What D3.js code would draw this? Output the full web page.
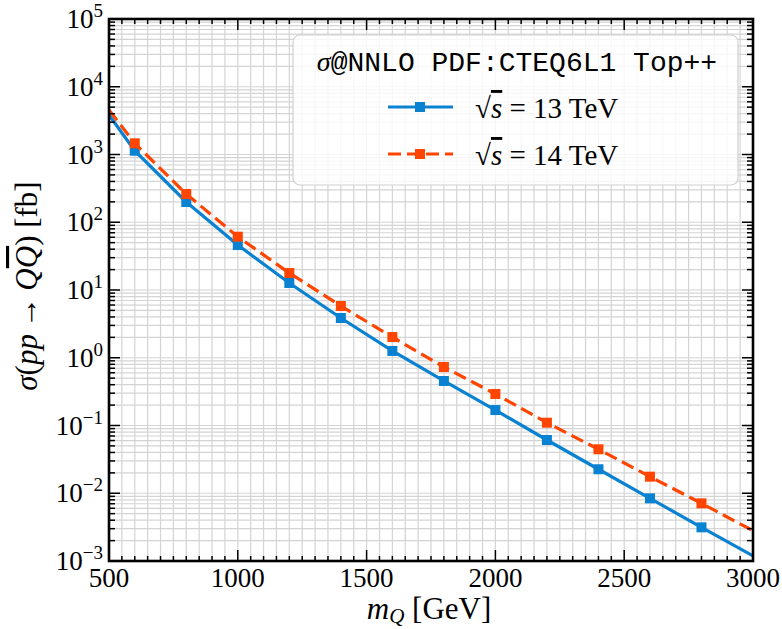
<!DOCTYPE html>
<html>
<head>
<meta charset="utf-8">
<script src="https://cdn.jsdelivr.net/npm/d3@7"></script>
<style>
  body { margin: 0; background: #fff; }
  text { font-family: "Liberation Serif", "DejaVu Serif", serif; fill: #000; }
</style>
</head>
<body>
<div id="chart"></div>
<script>
// top quark pair style cross sections
var mass = [500, 600, 800, 1000, 1200, 1400, 1600, 1800, 2000, 2200, 2400, 2600, 2800, 3000];
var sigma13 = [3830, 1137, 199, 46.1, 12.7, 3.86, 1.26, 0.454, 0.169, 0.0611, 0.0226, 0.00841, 0.00314, 0.00119];
var sigma14 = [4540, 1463, 261, 61.2, 17.8, 5.8, 2.02, 0.73, 0.292, 0.110, 0.0446, 0.01757, 0.0071, 0.0028];
var xTicks = [500, 1000, 1500, 2000, 2500, 3000];
var yTicks = [-3, -2, -1, 0, 1, 2, 3, 4, 5];

var margin = {top: 19, right: 29, bottom: 68, left: 109};
var width = 782 - margin.left - margin.right,
    height = 629 - margin.top - margin.bottom;

var blue = "#0a82d2", orange = "#ff4500";

var svg = d3.select("#chart").append("svg")
    .attr("width", 782)
    .attr("height", 629);

var g = svg.append("g")
    .attr("transform", "translate(" + margin.left + "," + margin.top + ")");

var x = d3.scaleLinear().domain([500, 3000]).range([0, width]);
var y = d3.scaleLog().domain([1e-3, 1e5]).range([height, 0]);

// minor positions
var xMinor = d3.range(500, 3001, 50);
var yMinor = [];
for (var e = -3; e < 5; e++) {
    for (var k = 1; k < 10; k++) yMinor.push(k * Math.pow(10, e));
}
yMinor.push(1e5);

// grid
g.append("g").selectAll("line")
    .data(xMinor)
    .enter().append("line")
    .attr("x1", x).attr("x2", x)
    .attr("y1", 0).attr("y2", height)
    .attr("stroke", "#d4d4d4")
    .attr("stroke-width", 1.2);

g.append("g").selectAll("line")
    .data(yMinor)
    .enter().append("line")
    .attr("y1", y).attr("y2", y)
    .attr("x1", 0).attr("x2", width)
    .attr("stroke", "#d4d4d4")
    .attr("stroke-width", 1.2);

// series
var line = d3.line()
    .x(function(d) { return x(d[0]); })
    .y(function(d) { return y(d[1]); });

function series(vals, color, dash) {
    var pts = mass.map(function(m, i) { return [m, vals[i]]; });
    g.append("path")
        .datum(pts)
        .attr("fill", "none")
        .attr("stroke", color)
        .attr("stroke-width", 3.2)
        .attr("stroke-dasharray", dash)
        .attr("d", line);
    g.append("g").selectAll("rect")
        .data(pts.slice(1, pts.length - 1))
        .enter().append("rect")
        .attr("x", function(d) { return x(d[0]) - 5; })
        .attr("y", function(d) { return y(d[1]) - 5; })
        .attr("width", 10).attr("height", 10)
        .attr("fill", color);
}
series(sigma13, blue, null);
series(sigma14, orange, "13,6");

// ticks, all four sides, inward
var ticks = g.append("g").attr("stroke", "#000").attr("stroke-width", 1.5);
xMinor.forEach(function(m) {
    var len = (m % 500 === 0) ? 11 : 5;
    ticks.append("line").attr("x1", x(m)).attr("x2", x(m)).attr("y1", height).attr("y2", height - len);
    ticks.append("line").attr("x1", x(m)).attr("x2", x(m)).attr("y1", 0).attr("y2", len);
});
yMinor.forEach(function(v) {
    var major = Math.abs(Math.log10(v) - Math.round(Math.log10(v))) < 1e-9;
    var len = major ? 11 : 6;
    ticks.append("line").attr("y1", y(v)).attr("y2", y(v)).attr("x1", 0).attr("x2", len);
    ticks.append("line").attr("y1", y(v)).attr("y2", y(v)).attr("x1", width).attr("x2", width - len);
});

// frame
g.append("rect")
    .attr("width", width).attr("height", height)
    .attr("fill", "none")
    .attr("stroke", "#000")
    .attr("stroke-width", 2.6);

// tick labels
g.append("g").selectAll("text")
    .data(xTicks)
    .enter().append("text")
    .attr("x", x)
    .attr("y", height + 26)
    .attr("text-anchor", "middle")
    .style("font-size", "27px")
    .text(function(d) { return d; });

var yl = g.append("g").selectAll("text")
    .data(yTicks)
    .enter().append("text")
    .attr("x", -6)
    .attr("y", function(d) { return y(Math.pow(10, d)) + 9; })
    .attr("text-anchor", "end")
    .style("font-size", "27px");
yl.append("tspan").text("10");
yl.append("tspan")
    .attr("dy", -11)
    .style("font-size", "19px")
    .text(function(d) { return d < 0 ? "\u2212" + (-d) : d; });

// axis labels
var xl = svg.append("text")
    .attr("x", 429)
    .attr("y", 619)
    .attr("text-anchor", "middle")
    .style("font-size", "31px");
xl.append("tspan").style("font-style", "italic").text("m");
xl.append("tspan").attr("dy", 4).style("font-size", "21px").style("font-style", "italic").text("Q");
xl.append("tspan").attr("dy", -4).text(" [GeV]");

var ylab = svg.append("text")
    .attr("transform", "translate(37,286)rotate(-90)")
    .attr("text-anchor", "middle")
    .style("font-size", "31px");
ylab.append("tspan").style("font-style", "italic").text("\u03c3");
ylab.append("tspan").text("(");
ylab.append("tspan").style("font-style", "italic").text("pp");
ylab.append("tspan").text("\u2009\u2192\u2009");
ylab.append("tspan").style("font-style", "italic").text("Q");
ylab.append("tspan").style("font-style", "italic").style("text-decoration", "overline").text("Q");
ylab.append("tspan").text(") [fb]");

// legend
var lg = svg.append("g").attr("transform", "translate(293,35)");
lg.append("rect")
    .attr("width", 445).attr("height", 150)
    .attr("rx", 7)
    .attr("fill", "#fff")
    .attr("fill-opacity", 0.82)
    .attr("stroke", "#d0d0d0")
    .attr("stroke-width", 1.2);

var title = lg.append("text")
    .attr("x", 224)
    .attr("y", 36)
    .attr("text-anchor", "middle")
    .style("font-size", "28px");
title.append("tspan").style("font-style", "italic").text("\u03c3");
title.append("tspan").style("font-family", "'Liberation Mono', 'DejaVu Sans Mono', monospace").text("@NNLO PDF:CTEQ6L1 Top++");

var entries = [
    {label: "13 TeV", color: blue, dash: null, y: 72},
    {label: "14 TeV", color: orange, dash: "13,6", y: 119}
];
entries.forEach(function(en) {
    lg.append("line")
        .attr("x1", 95).attr("x2", 160)
        .attr("y1", en.y).attr("y2", en.y)
        .attr("stroke", en.color)
        .attr("stroke-width", 3.2)
        .attr("stroke-dasharray", en.dash);
    lg.append("rect")
        .attr("x", 122).attr("y", en.y - 5)
        .attr("width", 10).attr("height", 10)
        .attr("fill", en.color);
    var t = lg.append("text")
        .attr("x", 182)
        .attr("y", en.y + 11)
        .style("font-size", "29px");
    t.append("tspan").text("\u221a");
    t.append("tspan").style("font-style", "italic").style("text-decoration", "overline").text("s");
    t.append("tspan").text(" = " + en.label);
});
</script>
</body>
</html>
